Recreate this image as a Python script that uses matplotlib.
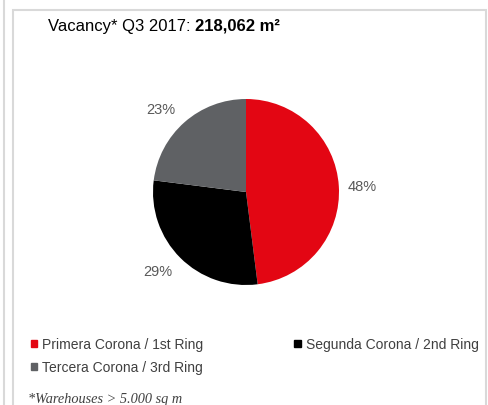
# vacancy share by ring, Q3 2017

import matplotlib.pyplot as plt
from matplotlib.patches import Rectangle, Patch

labels = ['Primera Corona / 1st Ring', 'Segunda Corona / 2nd Ring', 'Tercera Corona / 3rd Ring']
shares = [48, 29, 23]
colors = ['#E30613', '#000000', '#5F6164']

plt.rcParams['font.family'] = ['Liberation Sans', 'DejaVu Sans']

fig = plt.figure(figsize=(4.88, 4.05), dpi=100)
W, H = 488, 405

# light grey frames
fig.patches.append(Rectangle((13 / W, -0.1), (486 - 13) / W, (H - 10) / H + 0.1,
                             transform=fig.transFigure, fill=False,
                             edgecolor='#D9D9D9', linewidth=1.5))
fig.lines.append(plt.Line2D([3.5 / W, 3.5 / W], [0, 1], transform=fig.transFigure,
                            color='#D9D9D9', linewidth=1.5))

# pie centred at (246, 192) px, radius 93 px
r = 93
ax = fig.add_axes([(246 - r) / W, (H - 192 - r) / H, 2 * r / W, 2 * r / H])
wedges, texts = ax.pie(shares, colors=colors, startangle=90, counterclock=False,
                       labels=[f'{s}%' for s in shares], labeldistance=1.25,
                       textprops={'fontsize': 10.5, 'color': '#595959'},
                       wedgeprops={'linewidth': 0})
# excel-style "best fit" label spots
label_pos = [(1.247, 0.054), (-0.946, -0.860), (-0.914, 0.882)]
for t, p in zip(texts, label_pos):
    t.set_position(p)
    t.set_horizontalalignment('center')
    t.set_verticalalignment('center')
ax.set_xlim(-1, 1)
ax.set_ylim(-1, 1)
ax.set_aspect('equal')

t = fig.text(48 / W, 1 - 26 / H, 'Vacancy* Q3 2017: ', fontsize=12, va='center', ha='left')
fig.canvas.draw()
bb = t.get_window_extent()
fig.text(bb.x1 / W, 1 - 26 / H, '218,062 m²', fontsize=12, fontweight='bold',
         va='center', ha='left')

handles = [Patch(color=colors[0]), Patch(color=colors[2]), Patch(color=colors[1])]
leg_labels = [labels[0], labels[2], labels[1]]
fig.legend(handles, leg_labels, ncol=2, loc='upper left',
           bbox_to_anchor=(18 / W, 1 - 325 / H), frameon=False, fontsize=10,
           handlelength=0.45, handleheight=0.45, handletextpad=0.35,
           columnspacing=6.6, labelspacing=0.65, labelcolor='#404040')

fig.text(28 / W, 1 - 399 / H, '*Warehouses > 5.000 sq m', fontsize=10.3,
         family='Liberation Serif', style='italic', color='#404040',
         va='center', ha='left')

fig.savefig('out.png', dpi=100)
